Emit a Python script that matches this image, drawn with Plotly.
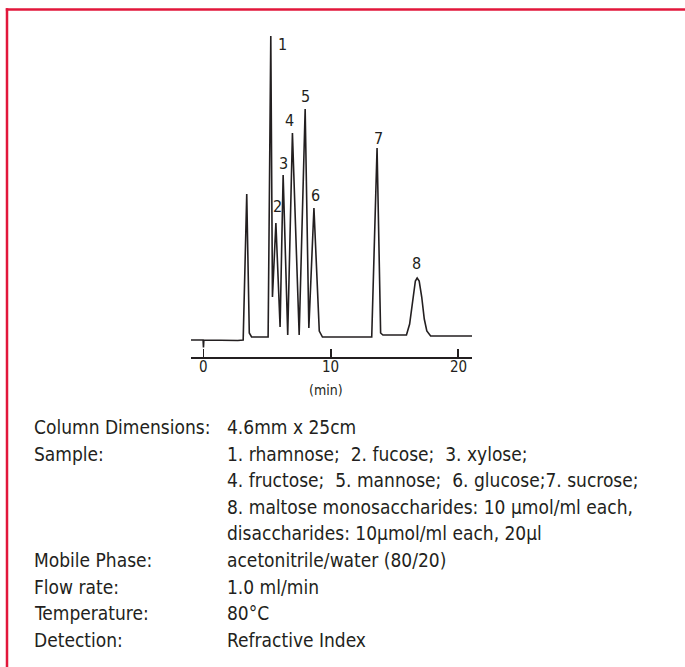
import plotly.graph_objects as go

W, H = 685, 667

# Chromatogram vertices: retention time (min) and detector response (arb. units)
time_min = [-0.98, -0.03, 0.0, 0.03, 2.70, 3.12, 3.40, 3.60, 3.78, 5.08, 5.29, 5.42, 5.69, 6.02, 6.26,
            6.62, 6.99, 7.52, 7.99, 8.28, 8.68, 9.10, 9.35, 13.22, 13.64, 13.92, 14.10, 15.95, 16.20,
            16.45, 16.65, 16.79, 16.95, 17.15, 17.35, 17.55, 17.85, 21.10]
signal = [17, 17, 9.5, 17, 16.5, 17, 163, 24, 20, 20, 321, 60, 134, 30, 182,
          22, 224, 22, 248, 29, 149, 26, 20, 20, 209, 24, 22, 22, 33,
          60, 76, 79, 76, 60, 38, 26, 21, 21]

peak_ids = ["1", "2", "3", "4", "5", "6", "7", "8"]
label_time = [6.20, 5.84, 6.28, 6.76, 7.99, 8.78, 13.72, 16.73]
label_signal = [312, 150, 193, 236, 260, 161, 218, 94]

tick_vals = [0, 10, 20]
tick_text = ["0", "10", "20"]
x_title = "(min)"

cond_keys = ["Column Dimensions:", "Sample:", "", "", "", "Mobile Phase:", "Flow rate:",
             "Temperature:", "Detection:"]
cond_vals = ["4.6mm x 25cm",
             "1. rhamnose;  2. fucose;  3. xylose;",
             "4. fructose;  5. mannose;  6. glucose;7. sucrose;",
             "8. maltose monosaccharides: 10 µmol/ml each,",
             "disaccharides: 10µmol/ml each, 20µl",
             "acetonitrile/water (80/20)",
             "1.0 ml/min",
             "80°C",
             "Refractive Index"]

FONT = "DejaVu Sans Condensed, sans-serif"
INK = "#231f20"
RED = "#e2173b"


def px(x):
    return x / W


def py(y):
    return 1 - y / H


fig = go.Figure()
fig.add_trace(go.Scatter(x=time_min, y=signal, mode="lines",
                         line=dict(color=INK, width=1.6), hoverinfo="skip", showlegend=False))

for lab, t, s in zip(peak_ids, label_time, label_signal):
    fig.add_annotation(x=t, y=s, xref="x", yref="y", text=lab, showarrow=False,
                       font=dict(family=FONT, size=16, color=INK), xanchor="center", yanchor="middle")

for tv, tt in zip(tick_vals, tick_text):
    fig.add_annotation(x=tv, y=py(367), xref="x", yref="paper", text=tt, showarrow=False,
                       font=dict(family=FONT, size=15, color=INK), xanchor="center", yanchor="middle")

fig.add_annotation(x=px(326), y=py(390), xref="paper", yref="paper", text=x_title, showarrow=False,
                   font=dict(family=FONT, size=14, color=INK), xanchor="center", yanchor="middle")

y0 = 427
step = 26.6
for i, (k, v) in enumerate(zip(cond_keys, cond_vals)):
    yy = y0 + i * step
    if k:
        fig.add_annotation(x=px(32), y=py(yy), xref="paper", yref="paper", text=k, showarrow=False,
                           font=dict(family=FONT, size=19, color=INK), xanchor="left", yanchor="middle")
    fig.add_annotation(x=px(225), y=py(yy), xref="paper", yref="paper", text=v, showarrow=False,
                       font=dict(family=FONT, size=19, color=INK), xanchor="left", yanchor="middle")

# red frame: top edge and left edge only (the rest lies outside the picture)
fig.add_shape(type="line", xref="paper", yref="paper", x0=px(5.8), x1=1.0, y0=py(9.5), y1=py(9.5),
              line=dict(color=RED, width=2.5))
fig.add_shape(type="line", xref="paper", yref="paper", x0=px(7), x1=px(7), y0=0.0, y1=py(8.3),
              line=dict(color=RED, width=2.5))

fig.update_layout(
    width=W, height=H, margin=dict(l=0, r=0, t=0, b=0),
    paper_bgcolor="white", plot_bgcolor="white",
    xaxis=dict(domain=[px(191), px(472)], range=[-0.98, 21.1], showline=True, linecolor=INK,
               linewidth=1.6, ticks="inside", ticklen=8, tickwidth=1.6, tickcolor=INK,
               tickvals=tick_vals, showticklabels=False, showgrid=False, zeroline=False),
    yaxis=dict(domain=[py(357), py(30)], range=[0, 327], visible=False, showgrid=False,
               zeroline=False),
)

fig.write_html("out.html", config={"displayModeBar": False, "staticPlot": True},
               post_script="document.body.style.margin='0';document.body.style.overflow='hidden';")
